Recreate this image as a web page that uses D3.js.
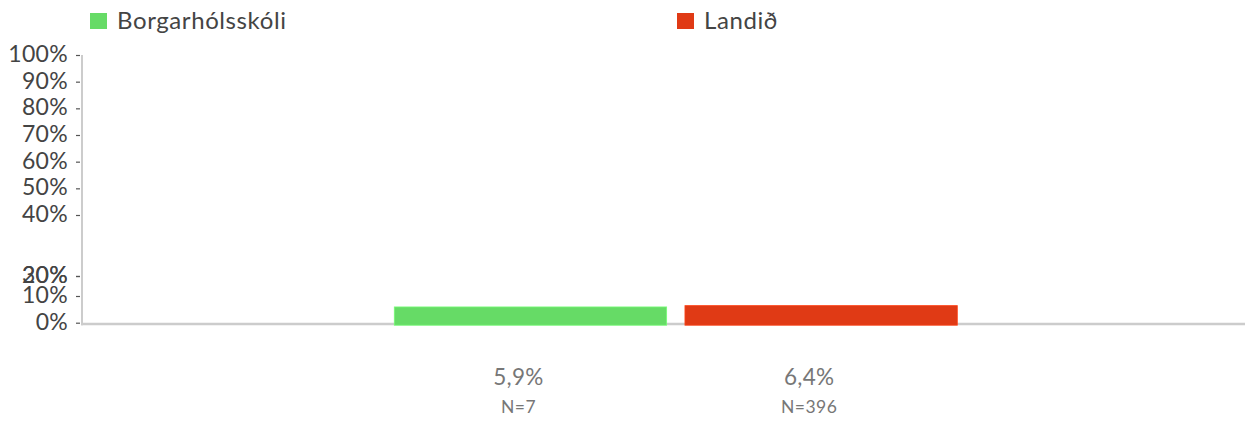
<!DOCTYPE html>
<html>
<head>
<meta charset="utf-8">
<script src="https://cdn.jsdelivr.net/npm/d3@7"></script>
<style>
  html, body { margin: 0; padding: 0; background: #fff; }
  svg { display: block; font-family: Lato, "Noto Sans", sans-serif; }
</style>
</head>
<body>
<svg id="chart" width="1246" height="421"></svg>
<script>
// Series and values
const series = ["Borgarhólsskóli", "Landið"];
const values = [0.059, 0.064];
const counts = [7, 396];
const colors = ["#66db66", "#e03a15"];

// Y axis ticks (value positions of the axis as drawn)
const tickValues = [0, 0.1, 0.2, 0.3, 0.4, 0.5, 0.6, 0.7, 0.8, 0.9, 1.0];
const tickLabels = ["0%", "10%", "20%", "30%", "40%", "50%", "60%", "70%", "80%", "90%", "100%"];
// Break points of the piecewise y scale
const yBreaks = [0, 0.1, 0.2, 0.3, 0.4, 1.0];

const svg = d3.select("#chart");

const axisX = 82;
const plotRight = 1245;
const yTop = 55, yBottom = 322.7;

// Piecewise linear scale for the value axis
const y = d3.scaleLinear()
  .domain(yBreaks)
  .range([yBottom, 296, 276, 276, 215, yTop]);

// Bars placed in a band scale
const x = d3.scaleBand()
  .domain(series)
  .range([394.3, 957.3])
  .paddingInner(0.063);

// Axis lines
svg.append("line")
  .attr("x1", axisX).attr("x2", axisX)
  .attr("y1", yTop).attr("y2", yBottom + 2.5)
  .attr("stroke", "#cccccc").attr("stroke-width", 2);

svg.append("line")
  .attr("x1", axisX - 1).attr("x2", plotRight)
  .attr("y1", yBottom + 1.3).attr("y2", yBottom + 1.3)
  .attr("stroke", "#cccccc").attr("stroke-width", 2.6);

// Y ticks and labels
const ticks = svg.append("g").selectAll("g")
  .data(tickValues)
  .join("g")
  .attr("transform", d => `translate(0,${y(d)})`);

ticks.append("line")
  .attr("x1", axisX - 6).attr("x2", axisX - 2)
  .attr("y1", 0.5).attr("y2", 0.5)
  .attr("stroke", "#555").attr("stroke-width", 1.2);

ticks.append("text")
  .attr("x", 68)
  .attr("y", 0)
  .attr("dy", "0.3em")
  .attr("text-anchor", "end")
  .attr("font-size", 23)
  .attr("letter-spacing", 0.3)
  .attr("fill", "#444")
  .text((d, i) => tickLabels[i]);

// Bars
svg.append("g").selectAll("rect")
  .data(series)
  .join("rect")
  .attr("x", d => x(d))
  .attr("width", x.bandwidth())
  .attr("y", (d, i) => y(values[i]))
  .attr("height", (d, i) => y(0) + 2.5 - y(values[i]))
  .attr("fill", (d, i) => colors[i])
  .attr("stroke", (d, i) => d3.color(colors[i]).brighter(0.4))
  .attr("stroke-width", 0.8);

// Value and count labels beneath the bars
const fmt = v => d3.format(".1f")(v * 100).replace(".", ",") + "%";
const lbl = svg.append("g").selectAll("g")
  .data(series)
  .join("g")
  .attr("transform", d => `translate(${x(d) + x.bandwidth() / 2 - 12},0)`);

lbl.append("text")
  .attr("y", 385)
  .attr("text-anchor", "middle")
  .attr("font-size", 22.5)
  .attr("letter-spacing", 0.3)
  .attr("fill", "#777")
  .text((d, i) => fmt(values[i]));

lbl.append("text")
  .attr("y", 413)
  .attr("text-anchor", "middle")
  .attr("font-size", 17.5)
  .attr("letter-spacing", 0.5)
  .attr("fill", "#777")
  .text((d, i) => "N=" + counts[i]);

// Legend
const legendX = [90, 677];
const legend = svg.append("g").selectAll("g")
  .data(series)
  .join("g")
  .attr("transform", (d, i) => `translate(${legendX[i]},0)`);

legend.append("rect")
  .attr("x", 0).attr("y", 13)
  .attr("width", 17).attr("height", 16)
  .attr("fill", (d, i) => colors[i]);

legend.append("text")
  .attr("x", 27).attr("y", 28.5)
  .attr("font-size", 24)
  .attr("letter-spacing", 0.6)
  .attr("fill", "#444")
  .text(d => d);
</script>
</body>
</html>
